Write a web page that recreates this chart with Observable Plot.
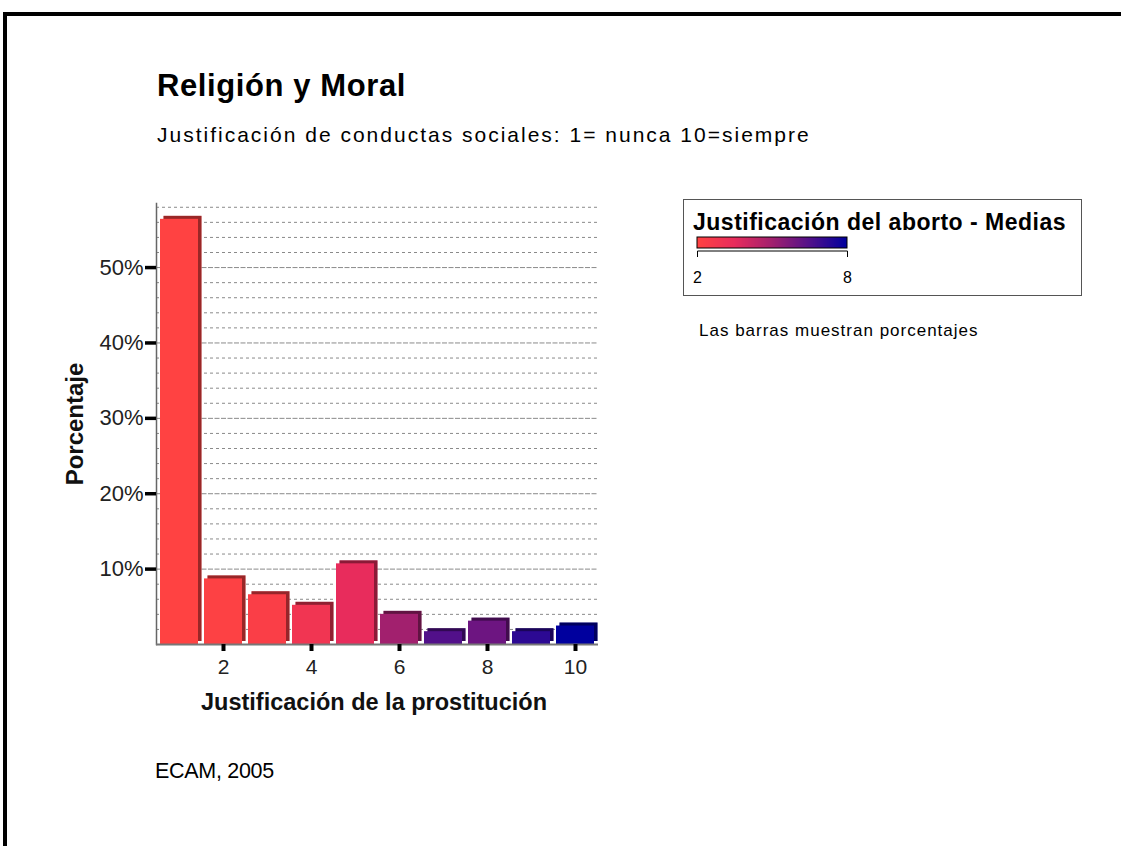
<!DOCTYPE html>
<html>
<head>
<meta charset="utf-8">
<script src="https://cdn.jsdelivr.net/npm/d3@7"></script>
<script src="https://cdn.jsdelivr.net/npm/@observablehq/plot@0.6"></script>
<style>
  html, body { margin: 0; padding: 0; background: #fff; }
  body { width: 1121px; height: 846px; overflow: hidden; position: relative; font-family: "Liberation Sans", Arial, sans-serif; color: #000; }
  .frame { position: absolute; left: 3px; top: 12px; width: 1300px; height: 1000px; border-top: 4px solid #000; border-left: 4px solid #000; box-sizing: border-box; }
  .t { position: absolute; white-space: nowrap; line-height: 1; }
  #title { left: 157px; top: 70px; font-size: 31px; font-weight: bold; letter-spacing: 0.6px; }
  #subtitle { left: 157px; top: 124.2px; font-size: 21px; letter-spacing: 2px; }
  #legendbox { position: absolute; left: 683px; top: 199px; width: 399px; height: 97px; border: 1.5px solid #555; box-sizing: border-box; }
  #legendtitle { left: 693px; top: 210.5px; font-size: 23px; font-weight: bold; letter-spacing: 0.5px; }
  #note { left: 699px; top: 321.6px; font-size: 17px; letter-spacing: 1px; }
  #caption { left: 155px; top: 761px; font-size: 21.5px; letter-spacing: -0.3px; }
  #chart { position: absolute; left: 0; top: 180px; }
  #legend { position: absolute; left: 687px; top: 225px; }
</style>
</head>
<body>
<div class="frame"></div>
<div class="t" id="title">Religión y Moral</div>
<div class="t" id="subtitle">Justificación de conductas sociales: 1= nunca 10=siempre</div>
<div id="legendbox"></div>
<div class="t" id="legendtitle">Justificación del aborto - Medias</div>
<div class="t" id="note">Las barras muestran porcentajes</div>
<div class="t" id="caption">ECAM, 2005</div>
<div id="chart"></div>
<div id="legend"></div>
<script>
// ---- Data ----
const categories = [1, 2, 3, 4, 5, 6, 7, 8, 9, 10];
const percentages = [56.4, 8.7, 6.6, 5.2, 10.7, 4.0, 1.7, 3.1, 1.7, 2.45];
const abortionMeans = [2.0, 2.1, 2.3, 2.9, 3.5, 5.0, 6.5, 6.0, 7.2, 8.0];
const yTicks = [10, 20, 30, 40, 50];
const xTicks = [2, 4, 6, 8, 10];
const legendDomain = [2, 8];
const legendTicks = [2, 8];
const colorStops = ["#ff4242", "#e82c5c", "#a2206e", "#52108a", "#00009e"];

const data = categories.map((c, i) => ({cat: c, pct: percentages[i], mean: abortionMeans[i]}));
const minorTicks = d3.range(2, 59, 2).filter(d => d % 10 !== 0);

const font = "'Liberation Sans', Arial, sans-serif";
const colorOpts = {type: "linear", domain: legendDomain, range: colorStops};

const chart = Plot.plot({
  width: 638,
  height: 560,
  marginLeft: 156,
  marginRight: 40,
  marginTop: 23,
  marginBottom: 96,
  style: {fontFamily: font, background: "none", overflow: "visible", color: "#000"},
  x: {type: "band", domain: categories, paddingInner: 0.14, paddingOuter: 0.02},
  y: {domain: [0, 58.5]},
  color: colorOpts,
  marks: [
    Plot.gridY({ticks: minorTicks, stroke: "#8a8a8a", strokeOpacity: 1, strokeDasharray: "3,3"}),
    Plot.gridY({ticks: yTicks, stroke: "#8a8a8a", strokeOpacity: 1, strokeDasharray: "5,1.5"}),
    // 3D extrusion (side/top)
    Plot.barY(data, {x: "cat", y: "pct", fill: "mean", dx: 3.5, dy: -3}),
    Plot.barY(data, {x: "cat", y: "pct", fill: "black", fillOpacity: 0.4, dx: 3.5, dy: -3}),
    // bar faces
    Plot.barY(data, {x: "cat", y: "pct", fill: "mean"}),
    Plot.frame({anchor: "left", stroke: "#666", strokeWidth: 1.5}),
    Plot.ruleY([0], {stroke: "#777", strokeWidth: 2}),
    Plot.axisY({ticks: yTicks, tickFormat: d => d + "%", tickSize: 11, tickPadding: 2, fontSize: 22, stroke: "#000", fill: "#222", strokeWidth: 3.5, label: null}),
    Plot.axisX({ticks: xTicks, tickSize: 7, tickPadding: 8, fontSize: 21, stroke: "#000", fill: "#222", strokeWidth: 4, label: null}),
    Plot.text(["Porcentaje"], {frameAnchor: "left", dx: -81, rotate: -90, textAnchor: "middle", lineAnchor: "middle", fontSize: 24, fontWeight: "bold", fill: "#111"}),
    Plot.text(["Justificación de la prostitución"], {frameAnchor: "bottom", dx: -3.5, dy: 58, textAnchor: "middle", lineAnchor: "middle", fontSize: 23.5, fontWeight: "bold", fill: "#111"})
  ]
});
document.getElementById("chart").appendChild(chart);

// ---- Legend ----
const leg = Plot.legend({
  color: colorOpts,
  legend: "ramp",
  label: null,
  ticks: legendTicks,
  tickFormat: d => String(d),
  width: 170,
  height: 60,
  marginLeft: 10,
  marginRight: 10,
  marginTop: 12,
  marginBottom: 37,
  tickSize: 9,
  style: {fontFamily: font, fontSize: "16px", color: "#000", overflow: "visible", background: "none"}
});
document.getElementById("legend").appendChild(leg);
const ls = d3.select(leg);
const img = ls.select("image");
if (!img.empty()) {
  ls.append("rect")
    .attr("x", img.attr("x")).attr("y", img.attr("y"))
    .attr("width", img.attr("width")).attr("height", img.attr("height"))
    .attr("fill", "none").attr("stroke", "#000").attr("stroke-width", 1);
}
ls.selectAll(".tick line").attr("y1", 3).attr("y2", 9).attr("stroke", "#000");
ls.selectAll(".tick text").attr("y", 24).attr("font-size", 16);
const tickNodes = ls.selectAll(".tick").nodes();
if (tickNodes.length >= 2) {
  const xs = tickNodes.map(n => +((n.getAttribute("transform") || "").match(/translate\(([-\d.]+)/) || [0, 0])[1]);
  d3.select(tickNodes[0].parentNode).append("path")
    .attr("d", `M${xs[0]},9V3H${xs[xs.length - 1]}V9`)
    .attr("fill", "none").attr("stroke", "#000").attr("stroke-width", 1);
}
</script>
</body>
</html>
